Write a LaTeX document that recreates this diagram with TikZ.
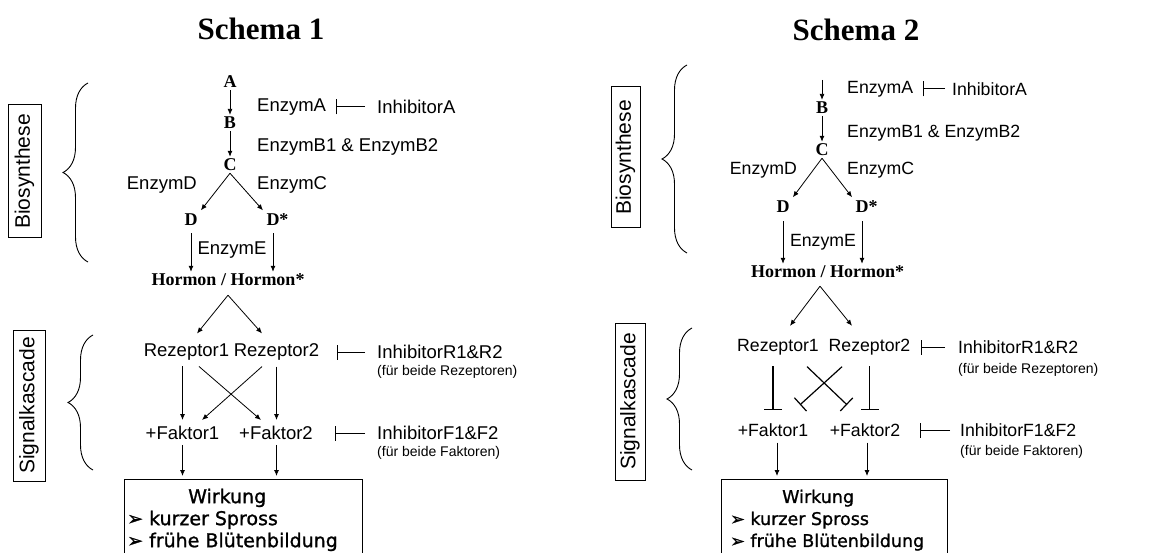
\documentclass[tikz,border=0pt]{standalone}
\usepackage{fontspec}
\setmainfont{Liberation Sans}
\newfontfamily\tnr{Liberation Serif}
\newfontfamily\dvs[FakeBold=1.2]{DejaVu Sans}
\usetikzlibrary{arrows.meta,calc,decorations.pathreplacing}
\begin{document}
\begin{tikzpicture}[x=1pt,y=-1pt,
  lab/.style={inner sep=0pt, font=\fontsize{18.5}{20}\selectfont},
  labr/.style={inner sep=0pt, font=\fontsize{17.7}{20}\selectfont},
  met/.style={inner sep=2pt, font=\tnr\bfseries\fontsize{18}{20}\selectfont},
  small/.style={inner sep=0pt, anchor=west, font=\fontsize{14}{16}\selectfont},
  arr/.style={-{Latex[length=6pt,width=5pt]}, line width=0.8pt},
  inh/.style={-{Bar[width=15pt]}, line width=1pt},
  tbar/.style={-{Bar[width=18pt]}, line width=1.2pt},
  sidebox/.style={draw, rotate=90, line width=1pt, inner sep=0pt, font=\fontsize{21}{23}\selectfont},
  brc/.style={decorate, decoration={brace, amplitude=25pt}, line width=0.9pt},
  ttl/.style={font=\tnr\bfseries\fontsize{31}{34}\selectfont},
  wbox/.style={draw, line width=1pt, inner sep=0pt},
  wtext/.style={inner sep=0pt, anchor=north west, align=left, font=\dvs\fontsize{19}{22}\selectfont},
  wtextr/.style={inner sep=0pt, anchor=north west, align=left, font=\dvs\fontsize{17.5}{22}\selectfont}
]
\useasboundingbox (0,0) rectangle (1151,553);

% ================= Schema 1 =================
\node[ttl] (T1) at (261,29) {Schema 1};

\node[met] (A) at (230,82) {A};
\node[met] (B) at (230,123) {B};
\node[met] (C) at (230,165) {C};
\node[met] (D) at (191,220) {D};
\node[met] (Ds) at (273,220) {D\rlap{*}};
\node[met] (H) at (228,280) {Hormon / Hormon*};

\node[lab, anchor=west] (eA) at (257,107) {EnzymA};
\node[lab, anchor=west] (iA) at (377,107) {InhibitorA};
\node[lab, anchor=west] (eB) at (257,147) {EnzymB1 \& EnzymB2};
\node[lab, anchor=east] (eD) at (197,185) {EnzymD};
\node[lab, anchor=west] (eC) at (257,185) {EnzymC};
\node[lab] (eE) at (232,250) {EnzymE};

\node[lab] (R1) at (186.5,352) {Rezeptor1};
\node[lab] (R2) at (276.5,352) {Rezeptor2};
\node[lab, anchor=west] (iR) at (377,352) {InhibitorR1\&R2};
\node[small] (iRs) at (377,372) {(für beide Rezeptoren)};
\node[lab] (F1) at (182.5,433) {+Faktor1};
\node[lab] (F2) at (276,433) {+Faktor2};
\node[lab, anchor=west] (iF) at (377,433) {InhibitorF1\&F2};
\node[small] (iFs) at (377,453) {(für beide Faktoren)};

\node[wbox, anchor=north west, minimum width=238pt, minimum height=90pt] (W1) at (124,479) {};
\node[wtext] (W1t) at ($(W1.north west)+(3,9.5)$) {\hspace*{61pt}Wirkung\\➢ kurzer Spross\\➢ frühe Blütenbildung};

\node[sidebox, minimum width=133pt, minimum height=33pt] (SB1) at (24.5,171.5) {Biosynthese};
\node[sidebox, minimum width=151pt, minimum height=32pt] (SS1) at (29,405.5) {Signalkascade};
\draw[brc] (88,262) -- (88,83);
\draw[brc] (93,470) -- (93,335);

\draw[arr] (A) -- (B);
\draw[arr] (B) -- (C);
\draw[arr, shorten >=2pt] (C.south) -- (D.north east);
\draw[arr, shorten >=2pt] (C.south) -- (Ds.north west);
\draw[arr, shorten <=5pt] (D.south) -- (D.south |- H.north);
\draw[arr, shorten <=5pt] (Ds.south) -- (Ds.south |- H.north);
\draw[inh, shorten <=12pt, shorten >=10pt] (iA.west) -- (eA.east);

\coordinate (hap) at ($(H.south)+(0,7)$);
\draw[arr] (hap) -- ($(R1.north)+(10.5,-10)$);
\draw[arr] (hap) -- ($(R2.north)+(-14.5,-10)$);

\draw[arr, shorten <=6pt, shorten >=6pt] (F1.north |- R1.south) -- (F1.north);
\draw[arr, shorten <=6pt, shorten >=6pt] (R2.south) -- (R2.south |- F2.north);
\draw[arr] ($(R1.south)+(12.5,6)$) -- ($(F2.north)+(-15,-6)$);
\draw[arr] ($(R2.south)+(-14.5,6)$) -- ($(F1.north)+(19.5,-6)$);
\draw[inh, shorten <=12pt, shorten >=18pt] (iR.west) -- (R2.east);
\draw[inh, shorten <=12pt, shorten >=22pt] (iF.west) -- (F2.east);

\draw[arr, shorten <=5pt, shorten >=3pt] (F1.south) -- (F1.south |- W1.north);
\draw[arr, shorten <=5pt, shorten >=3pt] (R2.south |- F2.south) -- (R2.south |- W1.north);

% ================= Schema 2 =================
\node[ttl] (T2) at (856,30) {Schema 2};

\coordinate (Bin) at (822,80);
\node[met] (B2) at (822,108) {B};
\node[met] (C2) at (822,150) {C};
\node[met] (D2) at (783,207) {D};
\node[met] (Ds2) at (862,207) {D\rlap{*}};
\node[met] (H2) at (827.5,272) {Hormon / Hormon*};

\node[labr, anchor=west] (eA2) at (847,89) {EnzymA};
\node[labr, anchor=west] (iA2) at (952,89) {InhibitorA};
\node[labr, anchor=west] (eB2) at (847,133) {EnzymB1 \& EnzymB2};
\node[labr, anchor=east] (eD2) at (797,170) {EnzymD};
\node[labr, anchor=west] (eC2) at (847,170) {EnzymC};
\node[labr] (eE2) at (823,242) {EnzymE};

\node[labr] (R12) at (778,347) {Rezeptor1};
\node[labr] (R22) at (869.5,347) {Rezeptor2};
\node[labr, anchor=west] (iR2) at (958,347) {InhibitorR1\&R2};
\node[small] (iRs2) at (958,370) {(für beide Rezeptoren)};
\node[labr] (F12) at (773,430) {+Faktor1};
\node[labr] (F22) at (865,430) {+Faktor2};
\node[labr, anchor=west] (iF2) at (960,430) {InhibitorF1\&F2};
\node[small] (iFs2) at (960,452) {(für beide Faktoren)};

\node[wbox, anchor=north west, minimum width=226pt, minimum height=90pt] (W2) at (721,479) {};
\node[wtextr] (W2t) at ($(W2.north west)+(9,10.5)$) {\hspace*{52pt}Wirkung\\➢ kurzer Spross\\➢ frühe Blütenbildung};

\node[sidebox, minimum width=141pt, minimum height=29pt] (SB2) at (625.5,157.5) {Biosynthese};
\node[sidebox, minimum width=157pt, minimum height=30pt] (SS2) at (630,401.5) {Signalkascade};
\draw[brc] (687,253) -- (687,65);
\draw[brc] (692,470) -- (692,328);

\draw[arr] (Bin) -- (B2);
\draw[arr] (B2) -- (C2);
\draw[arr, shorten >=2pt] (C2.south) -- (D2.north east);
\draw[arr, shorten >=2pt] (C2.south) -- (Ds2.north west);
\draw[arr, shorten <=6pt] (D2.south) -- (D2.south |- H2.north);
\draw[arr, shorten <=6pt] (Ds2.south) -- (Ds2.south |- H2.north);
\draw[inh, shorten <=7pt, shorten >=10pt] (iA2.west) -- (eA2.east);

\coordinate (hap2) at ($(H2.south)+(-7.5,6)$);
\draw[arr] (hap2) -- ($(R12.north)+(12,-13)$);
\draw[arr] (hap2) -- ($(R22.north)+(-17.5,-13)$);

\draw[tbar, shorten <=11pt, shorten >=13pt] (F12.north |- R12.south) -- (F12.north);
\draw[tbar, shorten <=11pt, shorten >=13pt] (R22.south) -- (R22.south |- F22.north);
\draw[tbar] ($(R12.south)+(29,11.5)$) -- ($(F22.north)+(-18,-18.5)$);
\draw[tbar] ($(R22.south)+(-27.5,11.5)$) -- ($(F12.north)+(27,-18.5)$);
\draw[inh, shorten <=13pt, shorten >=10pt] (iR2.west) -- (R22.east);
\draw[inh, shorten <=10pt, shorten >=20pt] (iF2.west) -- (F22.east);

\draw[arr, shorten <=6pt, shorten >=3pt] ($(F12.south)+(4,0)$) -- ($(F12.south |- W2.north)+(4,0)$);
\draw[arr, shorten <=6pt, shorten >=3pt] ($(F22.south)+(2,0)$) -- ($(F22.south |- W2.north)+(2,0)$);
\end{tikzpicture}
\end{document}
